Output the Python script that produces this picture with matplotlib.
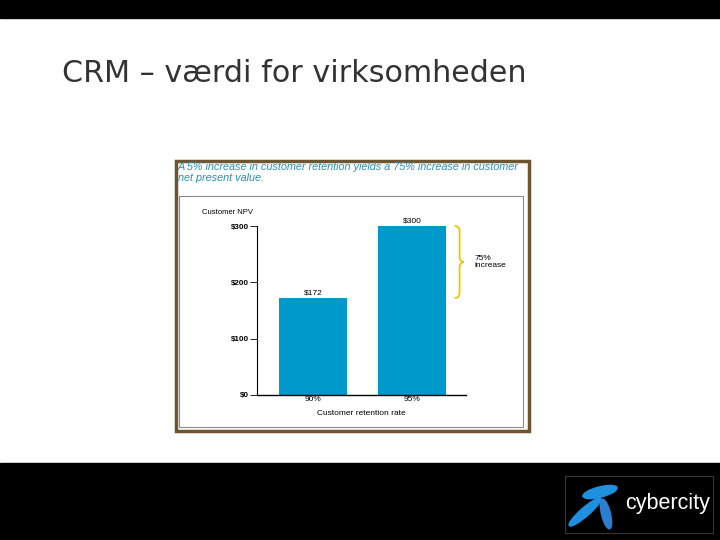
import matplotlib.pyplot as plt
from matplotlib.patches import Rectangle, Ellipse
from matplotlib.path import Path
from matplotlib.patches import PathPatch

rates = ['90%', '95%']
npv = [172, 300]
npv_labels = ['$172', '$300']
y_ticks = [0, 100, 200, 300]
y_tick_labels = ['$0', '$100', '$200', '$300']

W, H = 720, 540
fig = plt.figure(figsize=(7.2, 5.4), dpi=100)
fig.patch.set_facecolor('white')


def fx(px):
    return px / W


def fy(py):
    return 1 - py / H


# black bands of the slide
fig.patches.append(Rectangle((0, fy(18)), 1, 18 / H, transform=fig.transFigure, color='black'))
fig.patches.append(Rectangle((0, 0), 1, fy(463), transform=fig.transFigure, color='black'))

fig.text(fx(62), fy(73), 'CRM \u2013 v\u00e6rdi for virksomheden', fontsize=21.7,
         color='#333333', va='center', ha='left', family='DejaVu Sans')

# framed picture
fig.patches.append(Rectangle((fx(176), fy(431)), 353 / W, 270 / H, transform=fig.transFigure,
                             facecolor='white', edgecolor='#6e5532', linewidth=2.5, zorder=0))
fig.patches.append(Rectangle((fx(179), fy(427)), 344 / W, 231 / H, transform=fig.transFigure,
                             facecolor='white', edgecolor='#8a8a8a', linewidth=0.8, zorder=0))
fig.text(fx(178), fy(167), 'A 5% increase in customer retention yields a 75% increase in customer',
         fontsize=7.8, style='italic', color='#2a8fb8', va='center', family='Liberation Sans')
fig.text(fx(178), fy(178), 'net present value.',
         fontsize=7.8, style='italic', color='#2a8fb8', va='center', family='Liberation Sans')

ax = fig.add_axes([fx(257), fy(395), (466 - 257) / W, (395 - 226) / H])
ax.set_zorder(5)
ax.set_facecolor('none')
x = [0, 1]
ax.bar(x, npv, width=0.687, color='#0099cc')
for xi, v, lab in zip(x, npv, npv_labels):
    ax.text(xi, v + 3, lab, ha='center', va='bottom', fontsize=6, family='Liberation Sans')
ax.set_xlim(-0.566, 1.545)
ax.set_ylim(0, 300)
ax.set_yticks(y_ticks)
ax.set_yticklabels(y_tick_labels, fontsize=5.8, family='Liberation Sans', fontweight='bold')
ax.set_xticks(x)
ax.set_xticklabels(rates, fontsize=6, family='Liberation Sans')
ax.tick_params(axis='x', length=0, pad=1)
ax.tick_params(axis='y', length=5, width=0.6, pad=1)
for s in ['top', 'right']:
    ax.spines[s].set_visible(False)
ax.spines['left'].set_linewidth(0.8)
ax.spines['bottom'].set_linewidth(1.0)
ax.set_xlabel('Customer retention rate', fontsize=6, family='Liberation Sans', labelpad=5)
fig.text(fx(202), fy(213), 'Customer NPV', fontsize=5.5, family='Liberation Sans', va='center')

# curly brace from $172 to $300
bx = 1.43
verts = [(bx, 300), (bx + 0.05, 300), (bx + 0.05, 290), (bx + 0.05, 245),
         (bx + 0.05, 238), (bx + 0.09, 236), (bx + 0.09, 236),
         (bx + 0.09, 236), (bx + 0.05, 234), (bx + 0.05, 227),
         (bx + 0.05, 182), (bx + 0.05, 172), (bx, 172)]
codes = [Path.MOVETO, Path.CURVE3, Path.CURVE3, Path.LINETO,
         Path.CURVE3, Path.CURVE3, Path.LINETO,
         Path.LINETO, Path.CURVE3, Path.CURVE3, Path.LINETO,
         Path.CURVE3, Path.CURVE3]
ax.add_patch(PathPatch(Path(verts, codes), facecolor='none', edgecolor='#f2c500',
                       linewidth=1.3, clip_on=False))
ax.text(1.63, 236, '75%\nincrease', fontsize=6, family='Liberation Sans',
        va='center', ha='left', linespacing=1.1)

# logo
fig.patches.append(Rectangle((fx(565), fy(533)), 148 / W, 57 / H, transform=fig.transFigure,
                             facecolor='none', edgecolor='#444444', linewidth=0.6))
fig.patches.append(Ellipse((fx(600), fy(492)), 36 / W, 10 / H, angle=20,
                           transform=fig.transFigure, color='#1e90e0'))
fig.patches.append(Ellipse((fx(585), fy(512)), 10 / W, 36 / H, angle=-40,
                           transform=fig.transFigure, color='#1e90e0'))
fig.patches.append(Ellipse((fx(606), fy(514)), 9 / W, 30 / H, angle=10,
                           transform=fig.transFigure, color='#2a7fd0'))
fig.text(fx(625), fy(504), 'cybercity', fontsize=15.5, color='white', va='center',
         family='Liberation Sans', fontweight='light')

fig.savefig('out.png', dpi=100)
